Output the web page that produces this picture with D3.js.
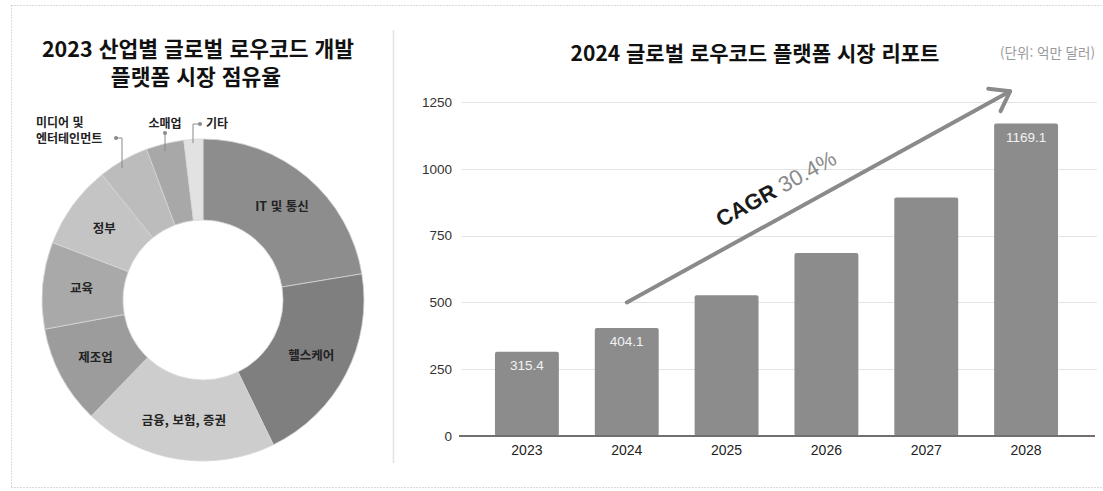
<!DOCTYPE html>
<html lang="ko">
<head>
<meta charset="utf-8">
<script src="https://cdn.jsdelivr.net/npm/d3@7"></script>
<style>
  html, body { margin: 0; padding: 0; background: #fff; }
  svg { display: block; }
  .kr { font-family: "Noto Sans CJK KR", "Noto Sans", sans-serif; }
  .num { font-family: "Liberation Sans", Arial, sans-serif; }
</style>
</head>
<body>
<svg id="chart" width="1103" height="491"></svg>
<script>
// ---- Donut: 2023 market share by industry (%) ----
const industries = ["IT 및 통신", "헬스케어", "금융, 보험, 증권", "제조업", "교육", "정부", "미디어 및 엔터테인먼트", "소매업", "기타"];
const shares = [22.4, 20.4, 19.4, 9.9, 8.7, 8.4, 5.1, 3.8, 1.9];
const shareColors = ["#8d8d8d", "#7f7f7f", "#cdcdcd", "#9c9c9c", "#a9a9a9", "#c4c4c4", "#bcbcbc", "#a8a8a8", "#e2e2e2"];

// ---- Bars: market size by year (100M USD) ----
const years = ["2023", "2024", "2025", "2026", "2027", "2028"];
const marketSize = [315.4, 404.1, 527, 685, 893, 1169.1];
const labelledYears = ["2023", "2024", "2028"];
const yTicks = [0, 250, 500, 750, 1000, 1250];
const cagrFrom = { year: "2024", value: 500 };
const cagrTo = { year: "2028", value: 1290 };

const svg = d3.select("#chart");

// outer dotted frame
const frame = svg.append("g").attr("stroke", "#b4b4b4").attr("stroke-width", 1)
  .attr("stroke-dasharray", "1,2").attr("fill", "none");
frame.append("line").attr("x1", 11.5).attr("x2", 1103).attr("y1", 5.5).attr("y2", 5.5);
frame.append("line").attr("x1", 11.5).attr("x2", 1103).attr("y1", 487.5).attr("y2", 487.5);
frame.append("line").attr("x1", 11.5).attr("x2", 11.5).attr("y1", 5.5).attr("y2", 487.5);

// divider between the two panels
svg.append("line").attr("x1", 393.5).attr("x2", 393.5).attr("y1", 30).attr("y2", 463)
  .attr("stroke", "#e2e2e2").attr("stroke-width", 1.5);

// ================= Donut panel =================
const left = svg.append("g");
left.append("text").attr("class", "kr").attr("x", 198).attr("y", 57)
  .attr("text-anchor", "middle").attr("font-size", 21.5).attr("font-weight", 700).attr("fill", "#111")
  .text("2023 산업별 글로벌 로우코드 개발");
left.append("text").attr("class", "kr").attr("x", 196).attr("y", 85)
  .attr("text-anchor", "middle").attr("font-size", 21.5).attr("font-weight", 700).attr("fill", "#111")
  .text("플랫폼 시장 점유율");

const cx = 203, cy = 300, rOuter = 161, rInner = 80;
const pie = d3.pie().sort(null).value(d => d.v);
const arcs = pie(industries.map((n, i) => ({ n, v: shares[i], c: shareColors[i] })));
const arc = d3.arc().innerRadius(rInner).outerRadius(rOuter);
const labelArc = d3.arc().innerRadius(122 * 2 - rInner).outerRadius(rInner); // centroid at r=122

const donut = left.append("g").attr("transform", `translate(${cx},${cy})`);
donut.selectAll("path").data(arcs).join("path")
  .attr("d", arc).attr("fill", d => d.data.c)
  .attr("stroke", "#d6d6d6").attr("stroke-width", 0.8);

// labels inside the larger slices
donut.selectAll("text.in").data(arcs.slice(0, 6)).join("text")
  .attr("class", "in kr")
  .attr("transform", d => `translate(${labelArc.centroid(d)})`)
  .attr("text-anchor", "middle").attr("dy", "0.35em")
  .attr("font-size", 12.5).attr("font-weight", 700).attr("fill", "#222")
  .text(d => d.data.n);

// outside labels with leader lines for the small slices
const leaders = left.append("g").attr("stroke", "#8a8a8a").attr("stroke-width", 1).attr("fill", "none");
const dots = left.append("g").attr("fill", "#8a8a8a");
const outText = left.append("g").attr("class", "kr").attr("font-size", 12).attr("font-weight", 700).attr("fill", "#222");

// media & entertainment
outText.append("text").attr("x", 36).attr("y", 127).text("미디어 및");
outText.append("text").attr("x", 36).attr("y", 143).text("엔터테인먼트");
leaders.append("path").attr("d", "M116,138 H122 V168");
dots.append("circle").attr("cx", 116).attr("cy", 138).attr("r", 2);
// retail
outText.append("text").attr("x", 165).attr("y", 128).attr("text-anchor", "middle").text("소매업");
leaders.append("path").attr("d", "M165,133 V151");
dots.append("circle").attr("cx", 165).attr("cy", 133).attr("r", 2);
// other
outText.append("text").attr("x", 206).attr("y", 128).text("기타");
leaders.append("path").attr("d", "M200,124 H193 V143");
dots.append("circle").attr("cx", 200).attr("cy", 124).attr("r", 2);

// ================= Bar panel =================
const right = svg.append("g");
right.append("text").attr("class", "kr").attr("x", 755).attr("y", 61)
  .attr("text-anchor", "middle").attr("font-size", 21).attr("font-weight", 700).attr("fill", "#111")
  .text("2024 글로벌 로우코드 플랫폼 시장 리포트");
right.append("text").attr("class", "kr").attr("x", 1095).attr("y", 58)
  .attr("text-anchor", "end").attr("font-size", 13.5).attr("fill", "#999")
  .text("(단위: 억만 달러)");

const x = d3.scaleBand().domain(years).range([477, 1076]).paddingInner(0.36).paddingOuter(0.18);
const y = d3.scaleLinear().domain([0, 1250]).range([436, 102]);

// gridlines
right.append("g").selectAll("line").data(yTicks.filter(t => t > 0)).join("line")
  .attr("x1", 462).attr("x2", 1097).attr("y1", d => Math.round(y(d)) + 0.5).attr("y2", d => Math.round(y(d)) + 0.5)
  .attr("stroke", "#e3e3e3").attr("stroke-width", 1);

// y axis labels
const yAxis = right.append("g").attr("transform", "translate(462,0)")
  .call(d3.axisLeft(y).tickValues(yTicks).tickFormat(d3.format("d")).tickSize(0).tickPadding(10));
yAxis.select(".domain").remove();
yAxis.selectAll("text").attr("class", "num").attr("font-size", 13.5).attr("fill", "#333");

// bars
right.append("g").selectAll("rect").data(years).join("rect")
  .attr("x", d => x(d)).attr("width", x.bandwidth())
  .attr("y", (d, i) => y(marketSize[i])).attr("height", (d, i) => y(0) - y(marketSize[i]))
  .attr("rx", 2).attr("fill", "#8c8c8c");

// value labels on selected bars
right.append("g").selectAll("text").data(years.map((d, i) => ({ d, v: marketSize[i] })).filter(o => labelledYears.includes(o.d)))
  .join("text").attr("class", "num")
  .attr("x", o => x(o.d) + x.bandwidth() / 2).attr("y", o => y(o.v) + 18)
  .attr("text-anchor", "middle").attr("font-size", 13.5).attr("fill", "#f2f2f2")
  .text(o => o.v.toFixed(1));

// baseline and x axis
const xAxis = right.append("g").attr("transform", `translate(0,${y(0)})`)
  .call(d3.axisBottom(x).tickSize(0).tickPadding(9));
xAxis.select(".domain").remove();
xAxis.selectAll("text").attr("class", "num").attr("font-size", 14).attr("fill", "#222");
right.append("line").attr("x1", 459).attr("x2", 1095).attr("y1", y(0)).attr("y2", y(0))
  .attr("stroke", "#707070").attr("stroke-width", 2);

// CAGR trend arrow
const ax0 = x(cagrFrom.year) + x.bandwidth() / 2, ay0 = y(cagrFrom.value);
const ax1 = x(cagrTo.year) + x.bandwidth() / 2 - 16, ay1 = y(cagrTo.value);
const ang = Math.atan2(ay1 - ay0, ax1 - ax0);
const head = 22, spread = 0.62;
const arrow = right.append("g").attr("stroke", "#8a8a8a").attr("stroke-width", 4)
  .attr("stroke-linecap", "round").attr("stroke-linejoin", "round").attr("fill", "none");
arrow.append("line").attr("x1", ax0).attr("y1", ay0).attr("x2", ax1).attr("y2", ay1);
arrow.append("path").attr("d", d3.line()([
  [ax1 - head * Math.cos(ang - spread), ay1 - head * Math.sin(ang - spread)],
  [ax1, ay1],
  [ax1 - head * Math.cos(ang + spread), ay1 - head * Math.sin(ang + spread)]
]));

// CAGR label along the arrow
const t = 0.272;
const lx = ax0 + (ax1 - ax0) * t, ly = ay0 + (ay1 - ay0) * t;
const deg = ang * 180 / Math.PI;
const cagr = right.append("text").attr("class", "num")
  .attr("transform", `translate(${lx},${ly}) rotate(${deg}) translate(0,-20)`)
  .attr("font-size", 22);
cagr.append("tspan").attr("font-weight", 700).attr("fill", "#1a1a1a").text("CAGR ");
cagr.append("tspan").attr("fill", "#8a8a8a").text("30.4%");
</script>
</body>
</html>
